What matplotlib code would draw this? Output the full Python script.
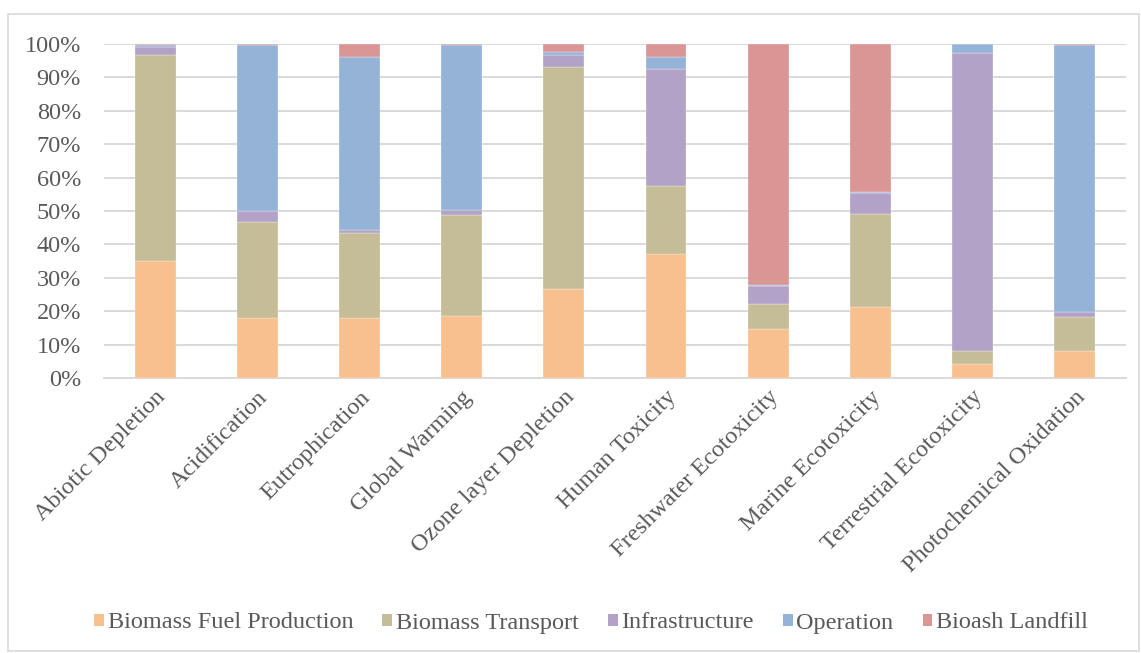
import numpy as np
import matplotlib.pyplot as plt
from matplotlib.patches import Rectangle
from matplotlib.ticker import PercentFormatter

categories = ["Abiotic Depletion", "Acidification", "Eutrophication", "Global Warming",
              "Ozone layer Depletion", "Human Toxicity", "Freshwater Ecotoxicity",
              "Marine Ecotoxicity", "Terrestrial Ecotoxicity", "Photochemical Oxidation"]

# shares in percent
fuel_production = [35.1, 18.1, 18.0, 18.7, 26.8, 37.2, 14.8, 21.2, 4.3, 8.3]
transport       = [61.6, 28.5, 25.5, 30.0, 66.1, 20.4, 7.4, 27.9, 3.9, 9.9]
infrastructure  = [2.3, 3.3, 0.9, 1.6, 3.6, 34.8, 5.4, 6.2, 89.0, 1.7]
operation       = [0.5, 49.8, 51.6, 49.4, 1.0, 3.6, 0.3, 0.4, 2.7, 79.8]
landfill        = [0.5, 0.3, 4.0, 0.3, 2.5, 4.0, 72.1, 44.3, 0.1, 0.3]

series = ["Biomass Fuel Production", "Biomass Transport", "Infrastructure",
          "Operation", "Bioash Landfill"]
colors = ["#F9C08F", "#C4BD97", "#B3A2C7", "#95B3D7", "#D99694"]

plt.rcParams['font.family'] = ['Liberation Serif', 'DejaVu Serif']
text_color = "#595959"
fs = 17.5

data = np.array([fuel_production, transport, infrastructure, operation, landfill])
data = data / data.sum(axis=0)  # 100% stacked

fig = plt.figure(figsize=(11.41, 6.53), dpi=100)
ax = fig.add_axes([104 / 1141, 1 - 378.3 / 653, (1125.7 - 104) / 1141, (378.3 - 43.7) / 653])

x = np.arange(len(categories))
bottom = np.zeros(len(categories))
for name, vals, c in zip(series, data, colors):
    ax.bar(x, vals, width=0.4, bottom=bottom, color=c, edgecolor="white",
           linewidth=0.2, label=name, zorder=3)
    bottom += vals

ax.set_xlim(-0.5, len(categories) - 0.5)
ax.set_ylim(0, 1)
ax.set_yticks(np.arange(0, 1.01, 0.1))
ax.yaxis.set_major_formatter(PercentFormatter(1.0, decimals=0))
ax.grid(axis="y", color="#d9d9d9", linewidth=1.4, zorder=0)
for s in ["top", "right", "left"]:
    ax.spines[s].set_visible(False)
ax.spines["bottom"].set_color("#d9d9d9")
ax.spines["bottom"].set_linewidth(1.4)

ax.tick_params(axis="y", length=0, pad=16.5, labelsize=fs, labelcolor=text_color)
ax.tick_params(axis="x", length=0, pad=6, labelsize=fs, labelcolor=text_color)
ax.set_xticks(x)
ax.set_xticklabels(categories, rotation=45, ha="right", va="top", rotation_mode="anchor")

leg = fig.legend(loc="center", bbox_to_anchor=(0.518, 1 - 623 / 653), ncol=5,
                 frameon=False, fontsize=fs, handlelength=0.4, handleheight=0.4,
                 handletextpad=0.15, columnspacing=1.2, labelcolor=text_color)
for h in leg.legend_handles:
    h.set_linewidth(0)

fig.patches.append(Rectangle((8 / 1141, 2 / 653), 1131 / 1141, 637 / 653,
                             transform=fig.transFigure, fill=False,
                             edgecolor="#d9d9d9", linewidth=1.2))

fig.savefig("out.png", dpi=100)
